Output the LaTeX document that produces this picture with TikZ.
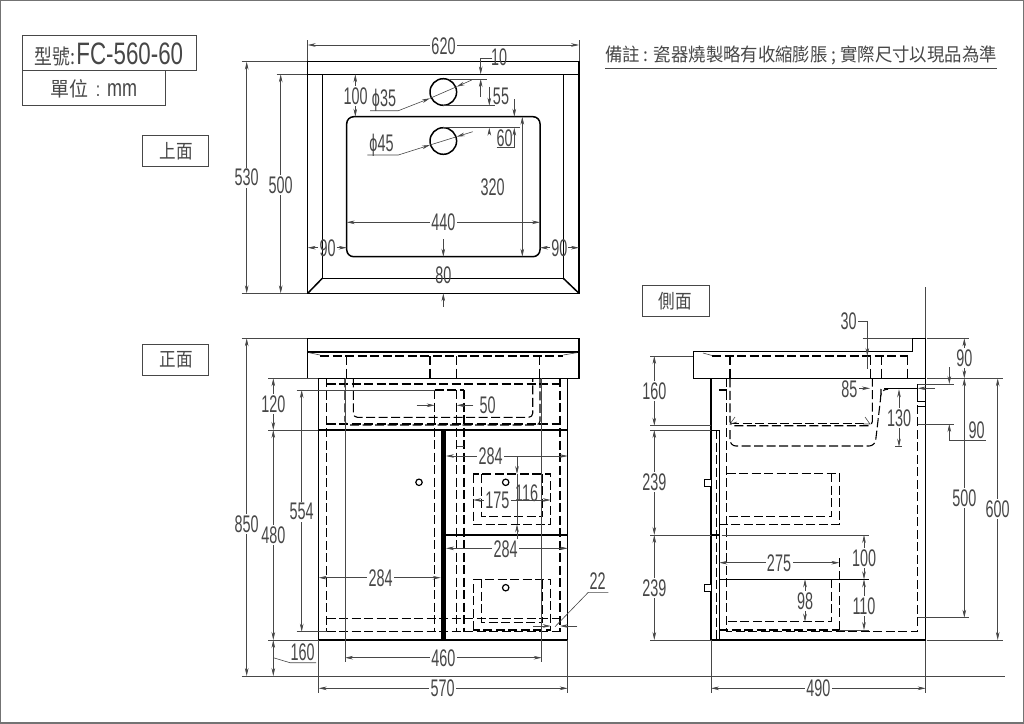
\documentclass[tikz,border=0pt]{standalone}
\usepackage{fontspec}
\setmainfont{Liberation Sans}
\newfontfamily\cjk{Noto Sans CJK TC}
\usetikzlibrary{arrows.meta}
\definecolor{ink}{gray}{0.28}
\newcommand{\dt}[1]{\scalebox{0.6}[1]{\fontsize{24}{24}\selectfont #1}}
\newcommand{\ct}[1]{\scalebox{0.85}[1]{\fontsize{19.5}{20}\selectfont\cjk #1}}
\tikzset{
 x=1pt,y=-1pt,
 >={Stealth[length=8pt,width=3.6pt]},
 dim/.style={line width=0.6pt,draw=ink},
 ext/.style={line width=0.6pt,draw=ink},
 obj/.style={line width=1.5pt,draw=black,line join=miter},
 hid/.style={line width=1.1pt,draw=black,dash pattern=on 9pt off 3.5pt},
 lab/.style={inner sep=0pt,text=ink},
 gaplab/.style={inner sep=1.5pt,fill=white,text=ink},
 tag/.style={line width=0.8pt,draw=ink},
 knob/.style={line width=1.2pt,draw=black,fill=white},
}
\begin{document}
\begin{tikzpicture}
\useasboundingbox (0,0) rectangle (1024,723);
\draw[line width=2pt,draw=black!55] (0,0) rectangle (1024,723);
% ---- title blocks
\draw[tag] (22.3,35.7) rectangle (196,70.7);
\draw[tag] (22.3,70.7) rectangle (165.3,105.3);
\draw[tag] (142.7,135.3) rectangle (208.7,166);
\draw[tag] (142.7,344) rectangle (208.7,375);
\draw[tag] (642.3,285) rectangle (709,316);
\node[lab] (model) at (109,54.5) {\scalebox{0.85}[1]{\fontsize{21}{22}\selectfont\cjk 型號:}\hspace{1pt}\scalebox{0.72}[1]{\fontsize{31}{32}\selectfont FC-560-60}};
\node[lab] (unit) at (94,89) {\scalebox{0.95}[1]{\fontsize{20}{22}\selectfont\cjk 單位}\hspace{7pt}\scalebox{0.8}[1]{\fontsize{20}{22}\selectfont :}\hspace{7pt}\scalebox{0.75}[1]{\fontsize{24}{24}\selectfont mm}};
\node[lab] (topv) at (176,151) {\ct{上面}};
\node[lab] (frontv) at (176,360) {\ct{正面}};
\node[lab] (sidev) at (675.5,301) {\ct{側面}};
\node[lab] (note) at (801,55) {\scalebox{0.94}[1]{\fontsize{18.5}{20}\selectfont\cjk 備註 : 瓷器燒製略有收縮膨脹 ; 實際尺寸以現品為準}};
\draw[ext] (605,68) -- (997,68);
% ---- TOP VIEW
\draw[obj] (307.7,61.7) rectangle (579,293.3);
\draw[obj] (307.7,74.3) -- (579,74.3);
\draw[obj] (322.3,74.3) -- (322.3,278.3) -- (563.3,278.3) -- (563.3,74.3);
\draw[obj] (307.7,293.3) -- (322.3,278.3) (579,293.3) -- (563.3,278.3);
\draw[obj,rounded corners=7pt] (346.7,116.7) rectangle (540,256.7);
\draw[obj] (443.3,92) circle[radius=13.3pt];
\draw[obj] (443.3,141) circle[radius=13.3pt];
% dims top
\draw[ext] (307.7,40) -- (307.7,61) (579,40) -- (579,61);
\draw[dim,<->] (307.7,45) -- (579,45);
\node[gaplab] (d620) at (443.5,46) {\dt{620}};
\draw[ext] (241.7,61.7) -- (307,61.7) (241.7,293.3) -- (307,293.3) (276.7,74.3) -- (307,74.3);
\draw[dim,<->] (246.7,61.7) -- (246.7,293.3);
\node[gaplab] (d530) at (246.7,177.5) {\dt{530}};
\draw[dim,<->] (280.7,74.3) -- (280.7,293.3);
\node[gaplab] (d500a) at (280.7,185) {\dt{500}};
\draw[dim,->] (492,58.3) -- (480.7,58.3) -- (480.7,74.3);
\draw[dim,->] (480.7,96.7) -- (480.7,79);
\draw[ext] (450,79) -- (486.7,79);
\node[lab,anchor=west] (d10) at (491,57) {\dt{10}};
\draw[dim,->] (489.3,86.7) -- (489.3,105.7);
\draw[dim,->] (489.3,134) -- (489.3,127.7);
\draw[ext] (443.3,105.4) -- (495,105.4) (443.3,127.7) -- (520,127.7);
\node[lab] (d55) at (501,96) {\dt{55}};
\draw[dim,->] (514.3,99.3) -- (514.3,116.7);
\draw[dim,->] (496.7,147.3) -- (514.3,147.3) -- (514.3,127.7);
\node[lab] (d60) at (504.5,138) {\dt{60}};
\draw[dim,<->] (355.3,74.3) -- (355.3,116.7);
\node[gaplab] (d100) at (355.7,96) {\dt{100}};
\draw[dim,->] (370,110.7) -- (398.3,110.7) -- (430,98.3);
\draw[dim,->] (471.7,80) -- (456.7,86.7);
\draw[dim] (430,98.3) -- (456.7,86.7);
\node[lab] (dp35) at (384,100) {\dt{ϕ35}};
\draw[dim,->] (367.3,155) -- (398.3,155) -- (430,145);
\draw[dim,->] (472.7,131.7) -- (456.7,136.7);
\draw[dim] (430,145) -- (456.7,136.7);
\node[lab] (dp45) at (381.5,145) {\dt{ϕ45}};
\draw[dim,<->] (522.3,116.7) -- (522.3,256.7);
\node[lab] (d320) at (492.7,187.3) {\dt{320}};
\draw[dim,<->] (346.7,222.3) -- (540,222.3);
\node[gaplab] (d440) at (443.3,222.5) {\dt{440}};
\draw[dim,->] (318,247.7) -- (307.7,247.7);
\draw[dim,->] (336.7,247.7) -- (346.7,247.7);
\node[lab] (d90a) at (327.7,248) {\dt{90}};
\draw[dim,->] (550,247.7) -- (540,247.7);
\draw[dim,->] (568.3,247.7) -- (579,247.7);
\node[lab] (d90b) at (559.3,248) {\dt{90}};
\draw[dim,->] (443.3,239) -- (443.3,256.7);
\draw[dim,->] (443.3,306.7) -- (443.3,293.3);
\node[lab] (d80) at (443.3,275) {\dt{80}};
% ---- FRONT VIEW
\draw[dim] (241.7,676) -- (1005,676);
\draw[obj] (307.7,338.3) rectangle (579,378.3);
\draw[obj] (307.7,352) -- (579,352);
\draw[obj] (318.7,378.3) rectangle (567.7,640);
\draw[obj] (318.7,430) -- (567.7,430);
\draw[obj] (446,535) -- (567.7,535);
\fill[black] (440.7,430) rectangle (446,640);
% hidden lines
\draw[dim] (309,352.7) -- (320,355) (576.7,352.7) -- (563.3,355);
\draw[hid] (320,356) -- (563,356);
\draw[hid] (346.7,356) -- (346.7,378) (430,356) -- (430,378) (456.7,356) -- (456.7,378) (539.3,356) -- (539.3,378);
\draw[hid] (326.7,378.3) -- (326.7,631.7) (560,378.3) -- (560,631.7);
\draw[hid] (326.7,384) -- (560,384);
\draw[hid] (326.7,424) -- (560,424);
\draw[hid,rounded corners=4pt] (345,378.3) -- (345,425) -- (540,425) -- (540,378.3);
\draw[hid,rounded corners=4pt] (353.3,378.3) -- (353.3,417.3) -- (532.7,417.3) -- (532.7,378.3);
\draw[hid] (434.7,390) -- (464,390);
\draw[hid] (434.7,390) -- (434.7,631.7) (464,390) -- (464,631.7) (456.7,390) -- (456.7,631.7);
\draw[ext] (456.7,446.7) -- (464,446.7);
\draw[hid] (326.7,618.3) -- (560,618.3);
\draw[hid] (326.7,631.7) -- (560,631.7);
\draw[hid] (473.3,474) rectangle (550.7,524.3);
\draw[hid] (481.7,474) -- (481.7,516.7) -- (542.7,516.7) -- (542.7,474);
\draw[hid] (473.3,630) -- (473.3,579.3) -- (550.7,579.3) -- (550.7,630) -- cycle;
\draw[hid] (481.7,579.3) -- (481.7,622.3) -- (542.7,622.3) -- (542.7,579.3);
\draw[knob] (419,482.3) circle[radius=3.2pt];
\draw[knob] (505.7,482.3) circle[radius=3.2pt];
\draw[knob] (505.7,587.7) circle[radius=3.2pt];
% dims front
\draw[ext] (241.7,338.3) -- (307,338.3);
\draw[dim,<->] (246.7,338.3) -- (246.7,676);
\node[gaplab] (d850) at (246.7,524.3) {\dt{850}};
\draw[ext] (268.3,378.3) -- (318,378.3) (268.3,430) -- (318,430) (268.3,640) -- (318,640);
\draw[dim,<->] (273.3,378.3) -- (273.3,430);
\node[gaplab] (d120) at (273.3,404.3) {\dt{120}};
\draw[dim,<->] (273.3,430) -- (273.3,640);
\node[gaplab] (d480) at (273.3,535) {\dt{480}};
\draw[dim,<->] (273.3,640) -- (273.3,676);
\draw[dim] (273.3,657.7) -- (290,662.7) -- (316,662.7);
\node[lab] (d160a) at (302.7,652.5) {\dt{160}};
\draw[ext] (296.7,390) -- (434.7,390) (296.7,631.7) -- (326.7,631.7);
\draw[dim,<->] (301.7,390) -- (301.7,631.7);
\node[gaplab] (d554) at (301.7,511.7) {\dt{554}};
\draw[dim,->] (416.7,405.3) -- (434.7,405.3);
\draw[dim,->] (473.3,405.3) -- (456.7,405.3);
\node[lab] (d50) at (487.7,405.7) {\dt{50}};
\draw[dim,<->] (318.7,577.7) -- (440.7,577.7);
\node[gaplab] (d284a) at (380.7,578.3) {\dt{284}};
\draw[dim,<->] (446,456) -- (567.7,456);
\node[gaplab] (d284b) at (490.7,456.7) {\dt{284}};
\draw[dim,<->] (446,548.3) -- (567.7,548.3);
\draw[dim,->] (517,456) -- (517,474);
\draw[dim] (517,474) -- (517,524.3);
\draw[dim,->] (517,548) -- (517,524.3);
\node[gaplab] (d284c) at (505.7,549) {\dt{284}};
\node[lab] (d116) at (526.7,493.3) {\dt{116}};
\draw[dim,<->] (473.3,500) -- (550.7,500);
\node[gaplab] (d175) at (497.3,500.7) {\dt{175}};
\draw[dim] (608.3,592.3) -- (588.3,592.3) -- (555,626.7);
\node[lab] (d22) at (597.7,581.5) {\dt{22}};
\draw[dim,->] (533.3,626) -- (550.7,626);
\draw[dim,->] (577.3,626) -- (560,626);
\draw[ext] (345,378.3) -- (345,662.3) (541.7,378.3) -- (541.7,662.3);
\draw[dim,<->] (345,657.7) -- (541.7,657.7);
\node[gaplab] (d460) at (443.3,658) {\dt{460}};
\draw[ext] (318.7,640) -- (318.7,693) (567.7,640) -- (567.7,693);
\draw[dim,<->] (318.7,688.3) -- (567.7,688.3);
\node[gaplab] (d570) at (442.7,688.7) {\dt{570}};
% ---- SIDE VIEW
\draw[ext] (925.7,287.3) -- (925.7,338.3) (925.7,640) -- (925.7,693.3);
\draw[obj] (693.3,351.7) -- (912.3,351.7) -- (912.3,338.3) -- (925.7,338.3) -- (925.7,378.3) -- (693.3,378.3) -- cycle;
\draw[obj] (711,378.3) -- (711,640) -- (925.7,640) -- (925.7,378.3);
\draw[obj] (719.3,430) -- (719.3,640);
\draw[obj,line width=1pt] (711,430) -- (719.3,430);
\draw[hid,line width=0.8pt] (716,430) -- (716,640);
\draw[dim] (703,353) -- (712,355.5);
\draw[hid] (712,356) -- (908.3,356);
\draw[hid] (730,356) -- (730,378) (870.3,356) -- (870.3,378) (881.7,356) -- (881.7,378) (907.7,356) -- (907.7,378);
\draw[hid] (726.7,378.3) -- (726.7,631.7) -- (917.7,631.7) -- (917.7,384);
\draw[hid] (719.3,390) -- (726.7,390);
\draw[hid,rounded corners=4pt] (730,378.3) -- (730,425.7) -- (872.3,425.7) -- (872.3,378.3);
\draw[hid] (730,423.3) -- (865,423.3);
\draw[hid,rounded corners=6pt] (730,430) -- (730,446) -- (875,446) -- (881,395) -- (881,389.3) -- (888,389.3);
\draw[line width=1.6pt,draw=black] (884,388.5) -- (917.7,388.5);
\draw[obj,line width=1pt] (917.7,384) -- (925.7,384) (917.7,384) -- (917.7,401.7) -- (925.7,401.7) (917.7,406) -- (925.7,406);
\draw[dim] (735,417) -- (730,424) -- (737,422) (865,417) -- (870,424) -- (863,424);
\draw[hid] (726.7,473.3) -- (839.3,473.3) -- (839.3,524.3) -- (719.3,524.3);
\draw[hid] (831.7,473.3) -- (831.7,516.7) -- (726.7,516.7);
\draw[line width=0.8pt,draw=black] (719.3,579.3) -- (869.3,579.3);
\draw[hid] (831.7,579.3) -- (831.7,621.7) -- (726.7,621.7);
\draw[hid] (839.3,558.3) -- (839.3,630);
\draw[hid] (719.3,630) -- (839.3,630);
\draw[ext] (839.3,630) -- (869.3,630);
\draw[knob,line width=1pt] (704.3,479) rectangle (711,486);
\draw[knob,line width=1pt] (704.3,584.3) rectangle (711,591);
\draw[line width=1.5pt] (711,535) -- (719.3,535);
\draw[ext] (650,535) -- (711,535) (721.7,535) -- (869.3,535);
% dims side
\draw[ext] (650,356) -- (693,356) (650,425.7) -- (711,425.7) (650,430) -- (711,430) (650,640) -- (711,640);
\draw[dim,<->] (654.3,356) -- (654.3,425.7);
\node[gaplab] (d160b) at (654.3,391) {\dt{160}};
\draw[dim,<->] (654.3,430) -- (654.3,535);
\node[gaplab] (d239a) at (654.3,482) {\dt{239}};
\draw[dim,<->] (654.3,535) -- (654.3,640);
\node[gaplab] (d239b) at (654.3,588.3) {\dt{239}};
\draw[dim,->] (858.3,321) -- (867.3,321) -- (867.3,356);
\draw[dim] (867.3,356) -- (867.3,369.3);
\node[lab] (d30) at (848.7,321.7) {\dt{30}};
\draw[ext] (862.7,338.3) -- (912,338.3);
\draw[dim,->] (859,388.3) -- (870,388.3);
\draw[dim,->] (935,388.3) -- (917.7,388.3);
\node[lab] (d85) at (849.3,389) {\dt{85}};
\draw[ext] (926.7,338.3) -- (969.3,338.3) (926.7,378.3) -- (1002.7,378.3);
\draw[dim,<->] (964.3,338.3) -- (964.3,378.3);
\node[gaplab] (d90c) at (964.3,358.3) {\dt{90}};
\draw[ext] (917.7,384) -- (954.3,384) (917.7,424) -- (954.3,424);
\draw[dim,->] (949.3,367.3) -- (949.3,384);
\draw[dim,->] (985.7,440.7) -- (949.3,440.7) -- (949.3,424);
\node[lab] (d90d) at (976.7,430.7) {\dt{90}};
\draw[dim,<->] (899,389.3) -- (899,446.7);
\draw[ext] (895,446.7) -- (901.7,446.7);
\node[gaplab] (d130) at (899,418.3) {\dt{130}};
\draw[ext] (917.7,617.7) -- (969.3,617.7);
\draw[dim,<->] (964.3,378.3) -- (964.3,617.7);
\node[gaplab] (d500b) at (964.3,498.3) {\dt{500}};
\draw[ext] (926.7,640) -- (1002.7,640);
\draw[dim,<->] (997.7,378.3) -- (997.7,640);
\node[gaplab] (d600) at (997.7,509.3) {\dt{600}};
\draw[dim,<->] (864,535) -- (864,579.3);
\node[gaplab] (d100b) at (864,558.3) {\dt{100}};
\draw[dim,<->] (864,579.3) -- (864,630);
\node[gaplab] (d110) at (864,606) {\dt{110}};
\draw[dim,<->] (719.3,562.7) -- (839.3,562.7);
\node[gaplab] (d275) at (779,563.3) {\dt{275}};
\draw[dim,<->] (805,579.3) -- (805,621.7);
\node[gaplab] (d98) at (805,601) {\dt{98}};
\draw[ext] (711,640) -- (711,693.3);
\draw[dim,<->] (711,688.3) -- (925.7,688.3);
\node[gaplab] (d490) at (818.3,688.3) {\dt{490}};
\end{tikzpicture}
\end{document}
